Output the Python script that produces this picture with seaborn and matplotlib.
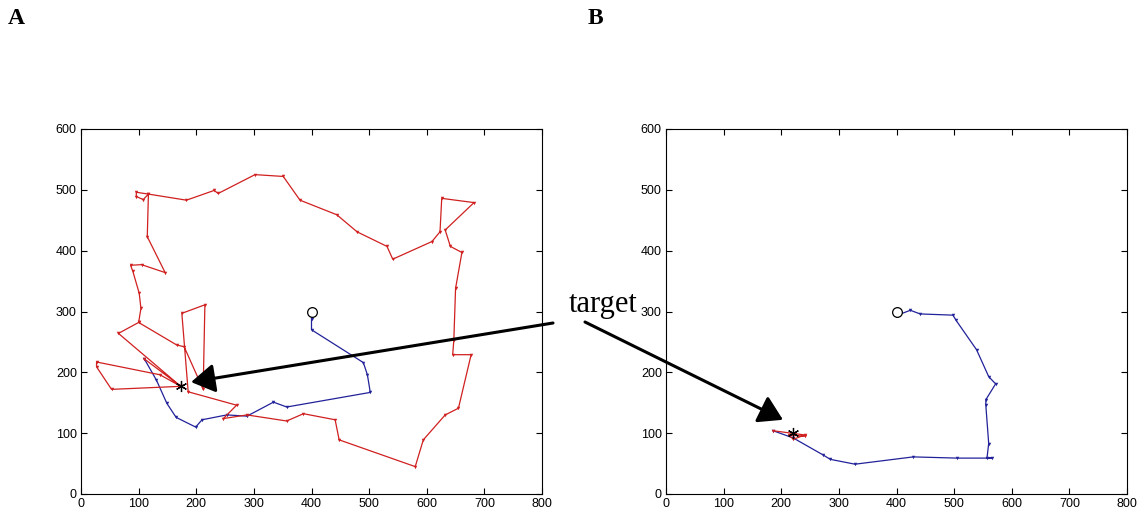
import numpy as np
import pandas as pd
import matplotlib
matplotlib.use("Agg")
import matplotlib.pyplot as plt
import seaborn as sns

# ---------------- data ----------------
start_xy = (400, 300)

# Panel A
a_target = (173, 177)
a_blue_x = [400, 400, 400, 490, 497, 502, 357, 334, 288, 253, 210, 199, 165, 149, 131, 110]
a_blue_y = [300, 288, 270, 216, 196, 167, 143, 151, 128, 130, 122, 110, 126, 149, 187, 222]
a_red_x = [110, 173, 53, 27, 27, 137, 173, 65, 100, 166, 179, 212, 215, 175, 186, 270, 247, 288,
           357, 386, 441, 448, 580, 594, 632, 655, 677, 645, 647, 650, 661, 641, 632, 682, 626,
           623, 609, 541, 531, 479, 444, 380, 351, 302, 238, 231, 183, 117, 96, 96, 108, 117,
           115, 146, 105, 86, 90, 101, 104, 100]
a_red_y = [222, 177, 172, 209, 217, 196, 177, 264, 282, 245, 242, 172, 311, 297, 168, 146, 124, 130,
           120, 132, 122, 89, 45, 89, 130, 141, 229, 229, 253, 338, 397, 407, 434, 479, 486,
           431, 415, 386, 407, 431, 459, 483, 522, 525, 494, 499, 483, 493, 496, 489, 484, 493,
           423, 364, 377, 376, 366, 330, 305, 282]

# Panel B
b_target = (221, 100)
b_blue_x = [400, 399, 424, 441, 498, 503, 539, 560, 572, 555, 555, 560, 557, 565, 505, 429, 328,
            285, 273, 221, 186]
b_blue_y = [300, 293, 302, 296, 294, 286, 237, 193, 181, 155, 146, 83, 59, 59, 59, 61, 49,
            57, 64, 92, 104]
b_red_x = [186, 241, 221, 213, 241]
b_red_y = [104, 97, 90, 97, 95]

x_ticks = [0, 100, 200, 300, 400, 500, 600, 700, 800]
y_ticks = [0, 100, 200, 300, 400, 500, 600]
panel_labels = ["A", "B"]
annot_text = "target"

# ---------------- style ----------------
sns.set_theme(style="ticks")
plt.rcParams["font.family"] = ["Liberation Sans", "DejaVu Sans"]
plt.rcParams["text.color"] = "black"

RED = "#d02020"
BLUE = "#22229a"

fig = plt.figure(figsize=(11.38, 5.16), dpi=100)
axA = fig.add_axes([81 / 1138, 22 / 516, 461 / 1138, 365 / 516])
axB = fig.add_axes([666 / 1138, 22 / 516, 461 / 1138, 365 / 516])


def draw(ax, bx, by, rx, ry, target):
    dfb = pd.DataFrame({"x": bx, "y": by})
    dfr = pd.DataFrame({"x": rx, "y": ry})
    sns.lineplot(data=dfb, x="x", y="y", sort=False, estimator=None, ax=ax,
                 color=BLUE, lw=0.9, marker="v", markersize=2.5, markeredgewidth=0)
    sns.lineplot(data=dfr, x="x", y="y", sort=False, estimator=None, ax=ax,
                 color=RED, lw=0.9, marker="v", markersize=2.5, markeredgewidth=0)
    ax.plot([start_xy[0]], [start_xy[1]], marker="o", ms=7, mfc="white", mec="black", mew=0.9,
            zorder=5)
    ax.plot([target[0]], [target[1]], marker=(6, 2, 0), ms=8, color="black", mew=0.9, zorder=5)
    ax.set_xlim(0, 800)
    ax.set_ylim(0, 600)
    ax.set_xticks(x_ticks)
    ax.set_yticks(y_ticks)
    ax.set_xlabel("")
    ax.set_ylabel("")
    ax.tick_params(direction="in", top=True, right=True, length=4, width=0.8,
                   labelsize=9, colors="black", pad=3)
    for s in ax.spines.values():
        s.set_visible(True)
        s.set_linewidth(0.8)
        s.set_color("black")
    ax.set_facecolor("white")


draw(axA, a_blue_x, a_blue_y, a_red_x, a_red_y, a_target)
draw(axB, b_blue_x, b_blue_y, b_red_x, b_red_y, b_target)

# panel labels
fig.text(8 / 1138, 1 - 18 / 516, panel_labels[0], family=["Liberation Serif"], weight="bold",
         fontsize=17, va="center", ha="left", color="black")
fig.text(588 / 1138, 1 - 18 / 516, panel_labels[1], family=["Liberation Serif"], weight="bold",
         fontsize=17, va="center", ha="left", color="black")

# target text and arrows
fig.text(603 / 1138, 1 - 312 / 516, annot_text, family=["Liberation Serif"], fontsize=22,
         ha="center", va="baseline", color="black")
arrow_kw = dict(arrowstyle="-|>,head_length=0.9,head_width=0.55", lw=2.2, color="black",
                mutation_scale=16, shrinkA=0, shrinkB=0)
axA.annotate("", xy=(191, 184), xycoords="data", xytext=(553 / 1138, 1 - 323 / 516),
             textcoords="figure fraction", arrowprops=arrow_kw, annotation_clip=False)
axB.annotate("", xy=(203, 122), xycoords="data", xytext=(585 / 1138, 1 - 322 / 516),
             textcoords="figure fraction", arrowprops=arrow_kw, annotation_clip=False)

fig.savefig("out.png", dpi=100, facecolor="white")
